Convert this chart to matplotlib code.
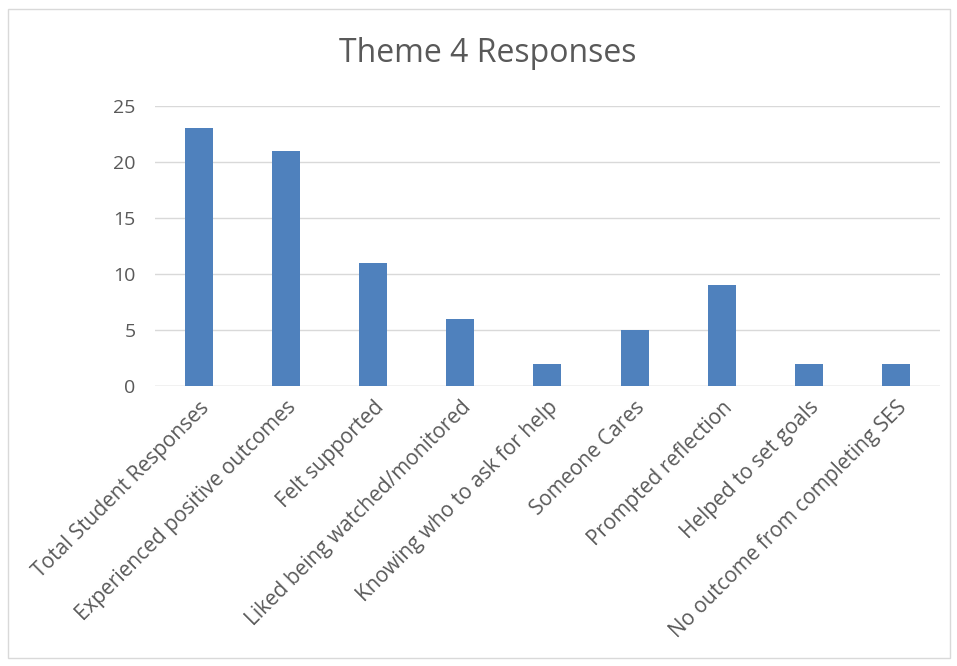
import matplotlib.pyplot as plt
from matplotlib.patches import Rectangle

categories = ['Total Student Responses', 'Experienced positive outcomes', 'Felt supported',
              'Liked being watched/monitored', 'Knowing who to ask for help', 'Someone Cares',
              'Prompted reflection', 'Helped to set goals', 'No outcome from completing SES']
values = [23, 21, 11, 6, 2, 5, 9, 2, 2]
yticks = [0, 5, 10, 15, 20, 25]

plt.rcParams['font.family'] = ['Open Sans', 'DejaVu Sans']
text_col = '#595959'

fig = plt.figure(figsize=(9.57, 6.66), dpi=100)
ax = fig.add_axes([0.162, 0.4204, 0.820, 0.4204])

x = range(len(categories))
ax.bar(x, values, width=0.32, color='#4F81BD', zorder=3)
ax.set_xlim(-0.5, len(categories) - 0.5)
ax.set_ylim(0, 25)
ax.set_yticks(yticks)
ax.grid(axis='y', color='#D9D9D9', linewidth=1, zorder=0)
for s in ax.spines.values():
    s.set_visible(False)
ax.axhline(0, color='#D9D9D9', linewidth=1, zorder=1)
ax.tick_params(axis='both', length=0, labelsize=14, colors=text_col, pad=8)
ax.tick_params(axis='x', labelsize=15)
ax.tick_params(axis='y', pad=14)
ax.set_xticks(list(x))
ax.set_xticklabels(categories, rotation=45, ha='right', rotation_mode='anchor')

fig.text(0.51, 0.92, 'Theme 4 Responses', ha='center', va='center', fontsize=23, color=text_col)
fig.patches.append(Rectangle((0.008, 0.012), 0.985, 0.975, transform=fig.transFigure,
                             fill=False, edgecolor='#D9D9D9', linewidth=1))

fig.savefig('out.png', dpi=100)
